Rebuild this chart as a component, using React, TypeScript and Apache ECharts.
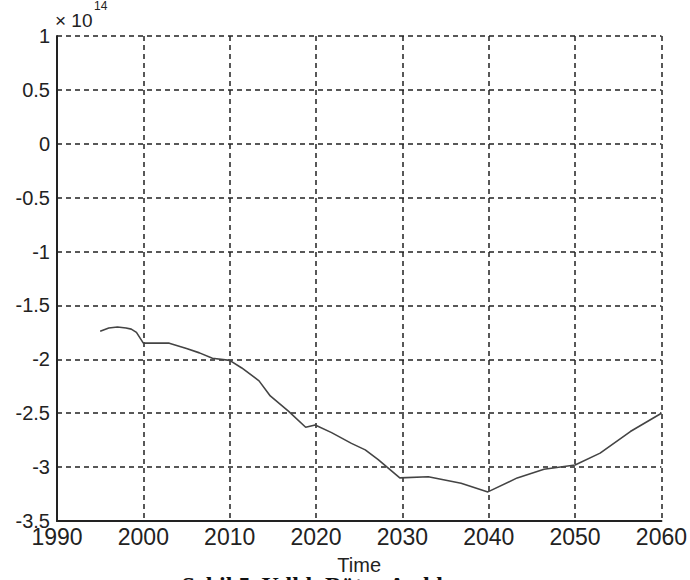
import React, { useEffect, useRef } from "react";
import * as echarts from "echarts";

// Years (x) and annual budget values in units of 10^14 (y)
const years = [
  1995, 1996, 1997, 1998, 1998.6, 1999.2, 2000, 2001, 2003, 2005, 2006.5, 2008,
  2010, 2011.4, 2013.4, 2014.7, 2016.8, 2018.8, 2019.9, 2021.8, 2024.1, 2025.7,
  2027.2, 2029.7, 2033, 2036.8, 2039.9, 2043.3, 2046.4, 2050, 2052.9, 2056.4, 2060,
];
const values = [
  -1.74, -1.71, -1.7, -1.71, -1.72, -1.75, -1.85, -1.85, -1.85, -1.9, -1.94, -1.99,
  -2.01, -2.08, -2.2, -2.34, -2.48, -2.63, -2.61, -2.68, -2.78, -2.84,
  -2.93, -3.1, -3.09, -3.15, -3.23, -3.1, -3.02, -2.98, -2.87, -2.67, -2.5,
];

const xMin = 1990;
const xMax = 2060;
const xStep = 10;
const yMin = -3.5;
const yMax = 1;
const yStep = 0.5;

const xTitle = "Time";
const exponentBase = "× 10";
const exponentPower = "14";
const caption = "Şekil 5. Yıllık Bütçe Açıkları";

export default function App() {
  const ref = useRef<HTMLDivElement>(null);

  useEffect(() => {
    if (!ref.current) return;
    const chart = echarts.init(ref.current, null, { renderer: "svg" });
    const data = years.map((y, i) => [y, values[i]]);
    const gridLine = {
      show: true,
      lineStyle: { color: "#222", width: 1.5, type: [5, 4] as any },
    };
    chart.setOption({
      animation: false,
      backgroundColor: "#fff",
      grid: { left: 57, right: 24, top: 36, bottom: 59, containLabel: false },
      xAxis: {
        type: "value",
        min: xMin,
        max: xMax,
        interval: xStep,
        name: xTitle,
        nameLocation: "middle",
        nameGap: 34,
        nameTextStyle: { fontFamily: "Liberation Sans", fontSize: 20, color: "#222" },
        axisLine: { show: true, onZero: false, lineStyle: { color: "#222", width: 2 } },
        axisTick: { show: false },
        axisLabel: {
          fontFamily: "Liberation Sans",
          fontSize: 23,
          color: "#222",
          margin: 4,
          formatter: (v: number) => String(v),
        },
        splitLine: gridLine,
      },
      yAxis: {
        type: "value",
        min: yMin,
        max: yMax,
        interval: yStep,
        axisLine: { show: true, onZero: false, lineStyle: { color: "#222", width: 2 } },
        axisTick: { show: false },
        axisLabel: {
          fontFamily: "Liberation Sans",
          fontSize: 20,
          color: "#222",
          margin: 7,
          formatter: (v: number) => String(v),
        },
        splitLine: gridLine,
      },
      graphic: [
        {
          type: "text",
          x: 55,
          y: 11,
          style: {
            text: exponentBase,
            fontFamily: "Liberation Sans",
            fontSize: 19,
            fill: "#222",
          },
        },
        {
          type: "text",
          x: 94,
          y: 0,
          style: {
            text: exponentPower,
            fontFamily: "Liberation Sans",
            fontSize: 12,
            fill: "#222",
          },
        },
        {
          type: "text",
          x: 327,
          y: 573,
          style: {
            text: caption,
            fontFamily: "Liberation Serif",
            fontWeight: "bold",
            fontSize: 24,
            fill: "#111",
            textAlign: "center",
          },
        },
      ],
      series: [
        {
          type: "line",
          data,
          showSymbol: false,
          symbol: "none",
          lineStyle: { color: "#444", width: 1.6 },
        },
      ],
    });
    return () => chart.dispose();
  }, []);

  return (
    <div
      ref={ref}
      style={{ position: "fixed", left: 0, top: 0, width: 690, height: 580, background: "#fff" }}
    />
  );
}
